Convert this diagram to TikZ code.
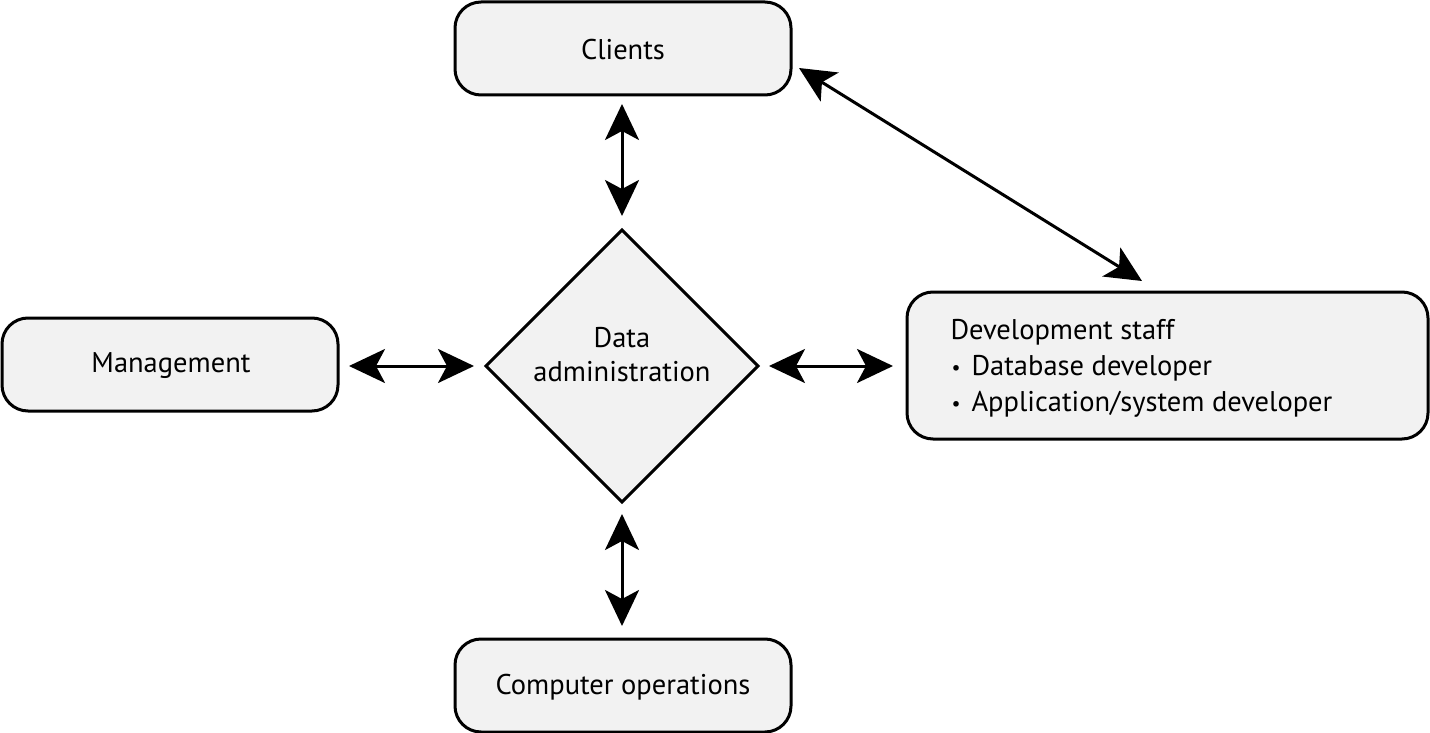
\documentclass[tikz,border=0pt]{standalone}
\usepackage{fontspec}
\setmainfont{PT Sans}
\usetikzlibrary{arrows.meta,shapes.geometric}
\definecolor{boxfill}{HTML}{F2F2F2}
\newcommand{\smallbul}{\makebox[21pt][l]{\hspace{1pt}\raisebox{1pt}{\scalebox{0.7}{\textbullet}}}}
\begin{document}
\begin{tikzpicture}[x=1pt,y=-1pt,
  box/.style={draw=black,line width=3pt,fill=boxfill,rounded corners=26pt,inner sep=0pt},
  lbl/.style={font=\fontsize{28.5}{34}\selectfont,align=center},
  conn/.style={line width=3pt,{Stealth[length=36pt,width=34pt,inset=9pt]}-{Stealth[length=36pt,width=34pt,inset=9pt]}}]
\useasboundingbox (0,0) rectangle (1430,733);
% boxes
\draw[box] (455,2) rectangle (791,95);
\node[lbl] (clients) at (623,50) {Clients};
\draw[box] (2,318) rectangle (338,411);
\node[lbl] (mgmt) at (171,366) {Management};
\draw[box] (455,639) rectangle (791,732);
\node[lbl] (ops) at (623,687) {Computer operations};
\draw[box] (907,292) rectangle (1428,439);
\node[lbl,align=left,anchor=west,font=\fontsize{28.5}{36}\selectfont] (dev) at (947,368) {Development staff\\
\smallbul Database developer\\
\smallbul Application/system developer};
% diamond
\draw[line width=3pt,fill=boxfill,line join=miter] (622,230) -- (758,366) -- (622,502) -- (486,366) -- cycle;
\node[lbl] (da) at (622,355) {Data\\administration};
% anchor coordinates
\coordinate (cB) at (622,104);
\coordinate (dT) at (622,216);
\coordinate (dB) at (622,514);
\coordinate (oT) at (622,626);
\coordinate (mR) at (349,366);
\coordinate (dL) at (474,366);
\coordinate (dR) at (769,366);
\coordinate (vL) at (893,366);
\coordinate (cR) at (799,68);
\coordinate (vT) at (1142,281);
% connectors
\draw[conn] (cB) -- (dT);
\draw[conn] (dB) -- (oT);
\draw[conn] (mR) -- (dL);
\draw[conn] (dR) -- (vL);
\draw[conn] (cR) -- (vT);
\end{tikzpicture}
\end{document}
